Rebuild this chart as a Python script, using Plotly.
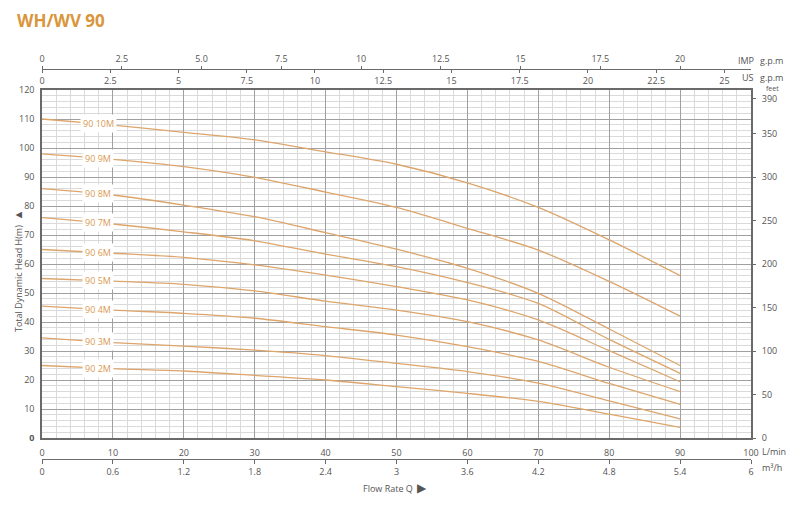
import numpy as np
import plotly.graph_objects as go

# ---------------- data ----------------
flow_lpm = [0, 10, 20, 30, 40, 50, 60, 70, 80, 90]
models = ["90 2M", "90 3M", "90 4M", "90 5M", "90 6M", "90 7M", "90 8M", "90 9M", "90 10M"]
head_2m = [25.0, 23.9, 23.1, 21.6, 20.0, 17.7, 15.4, 12.6, 8.2, 3.7]
head_3m = [34.5, 32.9, 31.7, 30.3, 28.4, 25.7, 22.9, 18.9, 12.8, 6.6]
head_4m = [45.5, 44.1, 43.0, 41.3, 38.4, 35.5, 31.5, 26.4, 18.8, 11.6]
head_5m = [55.0, 54.1, 53.0, 50.7, 47.2, 44.1, 40.1, 33.8, 24.4, 16.0]
head_6m = [65.0, 63.7, 62.3, 59.7, 56.2, 52.2, 47.6, 40.7, 30.1, 19.4]
head_7m = [76.0, 73.8, 71.1, 68.0, 63.4, 59.1, 53.6, 46.4, 34.0, 22.3]
head_8m = [86.0, 83.8, 80.3, 76.3, 70.8, 65.1, 58.5, 49.9, 37.6, 25.0]
head_9m = [98.0, 96.1, 93.6, 89.9, 84.8, 79.5, 72.3, 64.8, 54.0, 42.0]
head_10m = [110.0, 107.9, 105.4, 102.8, 98.7, 94.4, 88.0, 79.5, 68.3, 56.0]
heads = [head_2m, head_3m, head_4m, head_5m, head_6m, head_7m, head_8m, head_9m, head_10m]

lpm_ticks = [0, 10, 20, 30, 40, 50, 60, 70, 80, 90, 100]
m3h_ticks = [0, 0.6, 1.2, 1.8, 2.4, 3, 3.6, 4.2, 4.8, 5.4, 6]
m3h_text = ["0", "0.6", "1.2", "1.8", "2.4", "3", "3.6", "4.2", "4.8", "5.4", "6"]
imp_ticks = [0, 2.5, 5, 7.5, 10, 12.5, 15, 17.5, 20]
imp_text = ["0", "2.5", "5.0", "7.5", "10", "12.5", "15", "17.5", "20"]
us_ticks = [0, 2.5, 5, 7.5, 10, 12.5, 15, 17.5, 20, 22.5, 25]
us_text = ["0", "2.5", "5", "7.5", "10", "12.5", "15", "17.5", "20", "22.5", "25"]
head_ticks = [0, 10, 20, 30, 40, 50, 60, 70, 80, 90, 100, 110, 120]
feet_ticks = [0, 50, 100, 150, 200, 250, 300, 350, 390]

LPM_MAX = 100
L_PER_IMP = 4.5
L_PER_US = 3.85
H_MAX = 120
FT_MAX = 400
LABEL_Q = 7.9

# ---------------- style ----------------
FONT = "Open Sans"
TXT = "#555555"
CURVE = "#DDA56B"
LABEL = "#D99A55"
MAJOR = "#A0A0A0"
MINOR = "#DADADA"
AXIS = "#6A6A6A"

fig = go.Figure()
for name, h in zip(models, heads):
    fig.add_trace(go.Scatter(x=flow_lpm, y=h, mode="lines", name=name,
                             line=dict(color=CURVE, width=1.3, shape="spline", smoothing=0.8),
                             showlegend=False, hoverinfo="skip"))

# dummy traces so auxiliary axes are drawn
fig.add_trace(go.Scatter(x=[None], y=[None], yaxis="y2", showlegend=False, hoverinfo="skip"))
for ax in ["x2", "x3", "x4"]:
    fig.add_trace(go.Scatter(x=[None], y=[None], xaxis=ax, showlegend=False, hoverinfo="skip"))

# curve labels
for name, h in zip(models, heads):
    yv = float(np.interp(LABEL_Q, flow_lpm, h))
    fig.add_annotation(x=LABEL_Q, y=yv, xref="x", yref="y", text=name, showarrow=False,
                       font=dict(family=FONT, size=9, color=LABEL), bgcolor="white",
                       borderpad=2, xanchor="center", yanchor="middle")

# The page body has an 8px margin; figure is sized/positioned to compensate.
OFF = 8
W, H = 784, 490
ML, MT, MB = 42 - OFF, 40 - OFF, 2
MR = W - (751 - OFF)
pw, ph = W - ML - MR, H - MT - MB


def px(xr):
    """reference-picture x pixel -> paper fraction"""
    return (xr - OFF - ML) / pw


def py(yr):
    """reference-picture y pixel -> paper fraction"""
    return (H - MB - (yr - OFF)) / ph


tickfont = dict(family=FONT, size=9, color=TXT)

fig.update_layout(
    template="none",
    width=W, height=H,
    margin=dict(l=ML, r=MR, t=MT, b=MB, pad=0),
    paper_bgcolor="white", plot_bgcolor="white",
    title=dict(text="<b>WH/WV 90</b>", x=(17 - OFF) / W, xanchor="left",
               y=1 - (21 - OFF) / H, yanchor="middle",
               xref="container", yref="container",
               font=dict(family=FONT, size=17, color="#D9963C")),
    xaxis=dict(range=[0, LPM_MAX], domain=[0, 1], tickvals=lpm_ticks,
               ticks="", showline=True, mirror=True, linecolor=AXIS, linewidth=1.5,
               showgrid=True, gridcolor=MAJOR, gridwidth=1.2, zeroline=False,
               minor=dict(dtick=2, tick0=0, showgrid=True, gridcolor=MINOR, gridwidth=1),
               tickfont=tickfont, ticklabelstandoff=5, automargin=False, anchor="y"),
    yaxis=dict(range=[0, H_MAX], domain=[py(438), py(90)], tickvals=head_ticks,
               ticktext=["<b>0</b>"] + [str(v) for v in head_ticks[1:]],
               ticks="", showline=True, mirror=True, linecolor=AXIS, linewidth=1.5,
               showgrid=True, gridcolor=MAJOR, gridwidth=1.2, zeroline=False,
               minor=dict(dtick=2, tick0=0, showgrid=True, gridcolor=MINOR, gridwidth=1),
               tickfont=tickfont, ticklabelstandoff=4, automargin=False, anchor="x"),
    yaxis2=dict(range=[0, FT_MAX], overlaying="y", side="right", anchor="x",
                tickvals=feet_ticks, ticks="outside", ticklen=4, tickcolor=AXIS,
                showgrid=False, zeroline=False, showline=False,
                tickfont=tickfont, ticklabelstandoff=4, automargin=False),
    xaxis2=dict(range=[0, LPM_MAX * 60 / 1000], overlaying="x", side="bottom", anchor="free",
                position=py(459), tickvals=m3h_ticks, ticktext=m3h_text,
                ticks="outside", ticklen=4, tickcolor=AXIS, showline=True, linecolor=AXIS,
                linewidth=1.2, showgrid=False, zeroline=False,
                tickfont=tickfont, automargin=False),
    xaxis3=dict(range=[0, LPM_MAX / L_PER_IMP], overlaying="x", side="top", anchor="free",
                position=py(69), tickvals=imp_ticks, ticktext=imp_text,
                ticks="outside", ticklen=3, tickcolor=AXIS, showline=True, linecolor=AXIS,
                linewidth=1.2, showgrid=False, zeroline=False,
                tickfont=tickfont, automargin=False),
    xaxis4=dict(range=[0, LPM_MAX / L_PER_US], overlaying="x", side="bottom", anchor="free",
                position=py(69), tickvals=us_ticks, ticktext=us_text,
                ticks="outside", ticklen=3, tickcolor=AXIS, showline=False,
                showgrid=False, zeroline=False,
                tickfont=tickfont, automargin=False),
)

extra = [
    ("IMP", 737, 60, 9), ("g.p.m", 759, 60, 9),
    ("US", 741, 77.5, 9), ("g.p.m", 759, 77.5, 9),
    ("L/min", 761, 451, 9), ("m³/h", 761, 467, 9),
    ("feet", 765, 88.5, 7),
]
for t, xr, yr, fs in extra:
    fig.add_annotation(x=px(xr), y=py(yr), xref="paper", yref="paper", text=t, showarrow=False,
                       font=dict(family=FONT, size=fs, color=TXT), xanchor="left",
                       yanchor="middle", borderpad=0)

ann_font = dict(family=FONT, size=9, color=TXT)
fig.add_annotation(x=px(395), y=py(487), xref="paper", yref="paper",
                   text="Flow Rate Q  <span style='font-size:12px'>▶</span>", showarrow=False,
                   font=ann_font, xanchor="center", yanchor="middle")
fig.add_annotation(x=px(17), y=py(271), xref="paper", yref="paper",
                   text="Total Dynamic Head H(m)  <span style='font-size:11px'>▲</span>",
                   showarrow=False, textangle=-90,
                   font=ann_font, xanchor="center", yanchor="middle")

fig.write_html("out.html")
